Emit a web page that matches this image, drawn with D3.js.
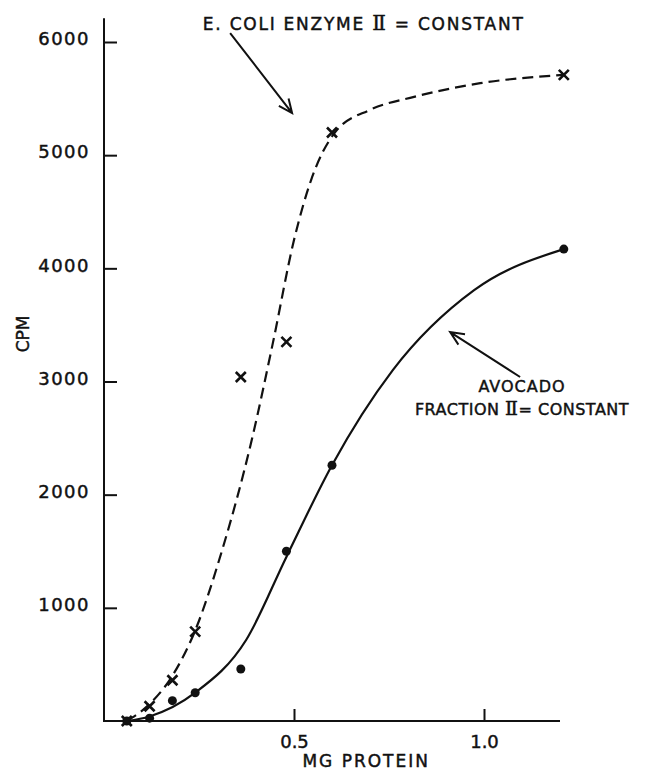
<!DOCTYPE html>
<html>
<head>
<meta charset="utf-8">
<script src="https://cdn.jsdelivr.net/npm/d3@7/dist/d3.min.js"></script>
<style>
  html, body { margin: 0; padding: 0; background: #fff; }
  svg { display: block; }
  text { font-family: "DejaVu Sans", sans-serif; fill: #111; stroke: #111; stroke-width: 0.45px; }
  .numeral { font-family: "DejaVu Serif", serif; }
</style>
</head>
<body>
<svg id="chart" width="652" height="770"></svg>
<script>
// Measured points: mg protein vs counts per minute
const ecoliX   = [0.06, 0.12, 0.18, 0.24, 0.36, 0.48, 0.60, 1.21];
const ecoliCpm = [0, 130, 360, 790, 3040, 3350, 5200, 5710];
const avocadoX   = [0.06, 0.12, 0.18, 0.24, 0.36, 0.48, 0.60, 1.21];
const avocadoCpm = [0, 25, 180, 250, 460, 1500, 2260, 4170];

// Hand-drawn fitted curves through the data
const ecoliFitX   = [0.06, 0.12, 0.18, 0.24, 0.31, 0.39, 0.445, 0.50, 0.545, 0.61, 0.70, 0.816, 0.99, 1.21];
const ecoliFitCpm = [0, 150, 400, 800, 1500, 2500, 3350, 4250, 4780, 5210, 5400, 5515, 5636, 5710];
const avocadoFitX   = [0.06, 0.12, 0.24, 0.374, 0.48, 0.60, 0.76, 0.974, 1.21];
const avocadoFitCpm = [0, 40, 250, 716, 1450, 2260, 3100, 3807, 4170];

// Axis ticks
const yTicks = [1000, 2000, 3000, 4000, 5000, 6000];
const xTicks = [0.5, 1.0];
const xTickLabels = ["0.5", "1.0"];

const svg = d3.select("#chart");
const x = d3.scaleLinear().domain([0, 1.2]).range([104, 560]);
const y = d3.scaleLinear().domain([0, 6000]).range([721, 42]);
const yTop = 6210;

const ink = "#111";

// Axes
const gy = svg.append("g").attr("transform", `translate(${x(0)},0)`)
  .call(d3.axisLeft(y).tickValues(yTicks).tickFormat(d3.format("d")).tickSize(-13).tickPadding(14));
gy.select(".domain").remove();
gy.selectAll(".tick line").attr("stroke", ink).attr("stroke-width", 2);
gy.selectAll(".tick text").attr("font-size", 18).attr("letter-spacing", 1.5)
  .attr("fill", ink).attr("dy", "0.15em").style("font-family", "DejaVu Sans");

const gx = svg.append("g").attr("transform", `translate(0,${y(0)})`)
  .call(d3.axisBottom(x).tickValues(xTicks).tickFormat((d, i) => xTickLabels[i]).tickSize(-12).tickPadding(14));
gx.select(".domain").remove();
gx.selectAll(".tick line").attr("stroke", ink).attr("stroke-width", 2);
gx.selectAll(".tick text").attr("font-size", 18).attr("fill", ink).style("font-family", "DejaVu Sans");

svg.append("line").attr("x1", x(0)).attr("x2", x(0)).attr("y1", y(0) + 1).attr("y2", y(yTop))
  .attr("stroke", ink).attr("stroke-width", 2);
svg.append("line").attr("x1", x(0)).attr("x2", x(1.2)).attr("y1", y(0)).attr("y2", y(0))
  .attr("stroke", ink).attr("stroke-width", 2);

// Axis titles
svg.append("text").attr("transform", `translate(29,${y(3420)}) rotate(-90)`)
  .attr("text-anchor", "middle").attr("font-size", 17).text("CPM");
svg.append("text").attr("x", x(0.69)).attr("y", 767).attr("text-anchor", "middle")
  .attr("font-size", 17).attr("letter-spacing", 2).text("MG  PROTEIN");

// Curves
const line = d3.line().x(d => x(d[0])).y(d => y(d[1])).curve(d3.curveMonotoneX);
svg.append("path").datum(d3.zip(ecoliFitX, ecoliFitCpm)).attr("d", line)
  .attr("fill", "none").attr("stroke", ink).attr("stroke-width", 2.2).attr("stroke-dasharray", "11,6");
svg.append("path").datum(d3.zip(avocadoFitX, avocadoFitCpm)).attr("d", line)
  .attr("fill", "none").attr("stroke", ink).attr("stroke-width", 2.2);

// Markers
svg.append("g").selectAll("circle").data(d3.zip(avocadoX, avocadoCpm)).join("circle")
  .attr("cx", d => x(d[0])).attr("cy", d => y(d[1])).attr("r", 4.5).attr("fill", ink);
const cross = svg.append("g").selectAll("g").data(d3.zip(ecoliX, ecoliCpm)).join("g")
  .attr("transform", d => `translate(${x(d[0])},${y(d[1])})`);
cross.append("path").attr("d", "M-5,-5L5,5M5,-5L-5,5").attr("stroke", ink).attr("stroke-width", 2.6);

// Annotations
function arrow(x1, y1, x2, y2) {
  const ax = x(x1), ay = y(y1), bx = x(x2), by = y(y2);
  const ang = Math.atan2(by - ay, bx - ax), L = 15, s = 0.42;
  svg.append("path")
    .attr("d", `M${ax},${ay}L${bx},${by}` +
      `M${bx - L * Math.cos(ang - s)},${by - L * Math.sin(ang - s)}L${bx},${by}` +
      `L${bx - L * Math.cos(ang + s)},${by - L * Math.sin(ang + s)}`)
    .attr("fill", "none").attr("stroke", ink).attr("stroke-width", 2);
}
arrow(0.332, 6079, 0.495, 5372);
arrow(1.095, 3040, 0.911, 3437);

const t1 = svg.append("text").attr("x", x(0.26)).attr("y", y(6106)).attr("font-size", 17)
  .attr("textLength", 320).attr("lengthAdjust", "spacing");
t1.append("tspan").text("E. COLI  ENZYME  ");
t1.append("tspan").attr("class", "numeral").attr("font-size", 20).text("Ⅱ");
t1.append("tspan").text(" = CONSTANT");

svg.append("text").attr("x", x(1.1)).attr("y", y(2907)).attr("text-anchor", "middle")
  .attr("font-size", 16).attr("letter-spacing", 1).text("AVOCADO");
const t2 = svg.append("text").attr("x", x(1.1)).attr("y", y(2704)).attr("text-anchor", "middle")
  .attr("font-size", 16).attr("letter-spacing", 0.5);
t2.append("tspan").text("FRACTION ");
t2.append("tspan").attr("class", "numeral").attr("font-size", 19).text("Ⅱ");
t2.append("tspan").text("= CONSTANT");
</script>
</body>
</html>
